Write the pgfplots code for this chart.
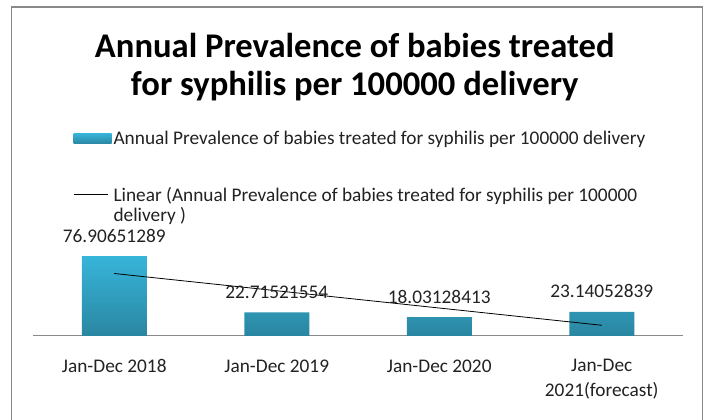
\documentclass[border=0pt]{standalone}
\usepackage{pgfplots}
\pgfplotsset{compat=1.18}
\usepackage{fontspec}
\setmainfont{Carlito}
\definecolor{bartop}{HTML}{37B5DA}
\definecolor{barbot}{HTML}{2A86A1}
\definecolor{framegray}{HTML}{898989}
\definecolor{txt}{HTML}{222222}
\newcommand{\bodyfont}{\fontsize{19.3}{22}\selectfont}
\begin{document}
\begin{tikzpicture}[x=1pt,y=1pt]
\useasboundingbox[fill=white] (0,0) rectangle (710,420);
\draw[framegray, line width=1.5pt] (11.5,-2) -- (11.5,413) -- (702.5,413) -- (702.5,-2);
\begin{axis}[
  at={(33pt,84pt)}, anchor=south west,
  scale only axis, width=650pt, height=93.6pt,
  xmin=-0.5, xmax=3.5, ymin=0, ymax=90,
  axis x line=bottom, axis y line=none,
  x axis line style={framegray, line width=1pt, -},
  xtick={0,1,2,3},
  xticklabels={Jan-Dec 2018, Jan-Dec 2019, Jan-Dec 2020, {Jan-Dec\\2021(forecast)}},
  xticklabel style={align=center, font=\fontsize{19.3}{24.5}\selectfont, text=txt, anchor=north, yshift=-20pt},
  major tick length=0pt,
  title={Annual Prevalence of babies treated\\for syphilis per 100000 delivery},
  title style={at={(0.495,2.81)}, anchor=center, align=center, font=\fontsize{34.6}{38.5}\selectfont\bfseries},
  legend style={at={(0.0615,2.213)}, anchor=north west, draw=none, fill=none,
    font=\bodyfont, text=txt, row sep=37pt, inner sep=0pt},
  legend cell align=left,
  clip=false,
]
\addplot[ybar, bar width=65pt, draw=none, top color=bartop, bottom color=barbot,
  point meta=explicit symbolic,
  nodes near coords={\pgfplotspointmeta},
  every node near coord/.append style={anchor=base, yshift=14pt, inner sep=0pt, font=\bodyfont, text=txt},
  legend image code/.code={\shade[top color=bartop,bottom color=barbot] (0pt,-5.3pt) rectangle (38pt,5.3pt);}
] coordinates {
  (0,76.90651289) [76.90651289]
  (1,22.71521554) [22.71521554]
  (2,18.03128413) [18.03128413]
  (3,23.14052839) [23.14052839]
};
\addlegendentry{Annual Prevalence of babies treated for syphilis per 100000 delivery}
\addplot[black, line width=0.8pt, mark=none, sharp plot,
  legend image code/.code={\draw[black, line width=0.8pt] (0pt,0pt) -- (34pt,0pt);}
] coordinates {
  (0,60.095) (1,43.497) (2,26.899) (3,10.301)
};
\addlegendentry{\fontsize{19.3}{20}\selectfont\begin{tabular}[t]{@{}l@{}}Linear (Annual Prevalence of babies treated for syphilis per 100000\\delivery )\end{tabular}}
\end{axis}
\end{tikzpicture}
\end{document}
